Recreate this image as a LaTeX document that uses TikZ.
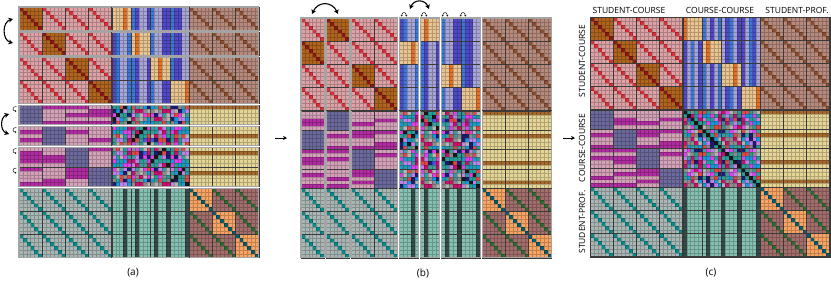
\documentclass[tikz,border=0pt]{standalone}
\usepackage{fontspec}
\setsansfont{Open Sans}
\usetikzlibrary{positioning, arrows.meta}

\definecolor{brownC}{HTML}{B0641E}
\definecolor{darkredC}{HTML}{8E1616}
\definecolor{pinkC}{HTML}{DCA2A6}
\definecolor{redC}{HTML}{D83038}
\definecolor{lavC}{HTML}{A8A4D4}
\definecolor{indigoC}{HTML}{5048C4}
\definecolor{blueC}{HTML}{3C78D8}
\definecolor{beigeC}{HTML}{E8C490}
\definecolor{orangeC}{HTML}{E0702A}
\definecolor{mauveC}{HTML}{B68A7C}
\definecolor{browndC}{HTML}{8A4E2E}
\definecolor{slateC}{HTML}{6C6A9C}
\definecolor{pinktwoC}{HTML}{D4A2B8}
\definecolor{magentaC}{HTML}{B02CA0}
\definecolor{khakiC}{HTML}{E4D496}
\definecolor{kbrownC}{HTML}{A4682C}
\definecolor{grayspC}{HTML}{A8B6B4}
\definecolor{tealC}{HTML}{068A8A}
\definecolor{mintC}{HTML}{86C0B0}
\definecolor{darkslateC}{HTML}{364A4A}
\definecolor{peachC}{HTML}{F8A464}
\definecolor{tealdarkC}{HTML}{065C6C}
\definecolor{mauvespC}{HTML}{A26E6C}
\definecolor{greenC}{HTML}{2E6A34}
\definecolor{edgeC}{HTML}{3A3A3A}
\definecolor{groupC}{HTML}{A4A4A4}
\definecolor{rnd0}{HTML}{E040E8}
\definecolor{rnd1}{HTML}{2A9C98}
\definecolor{rnd2}{HTML}{8C8C8C}
\definecolor{rnd3}{HTML}{4A50E0}
\definecolor{rnd4}{HTML}{1C1C70}
\definecolor{rnd5}{HTML}{1898D8}
\definecolor{rnd6}{HTML}{E04848}
\definecolor{rnd7}{HTML}{C080E8}
\definecolor{rnd8}{HTML}{C8106C}
\definecolor{rnd9}{HTML}{B4B4B4}
\definecolor{rnd10}{HTML}{3A9C9C}
\definecolor{rnd11}{HTML}{181818}

\def\cellsz{3.87}
\def\gapsz{1.8}
\def\bsize{{6,6,6,6,5,5,5,5,6,6,6}}
\def\bstart{{0,6,12,18,24,29,34,39,44,50,56}}
\def\ccstripe{{1,0,2,0,1,2,0,1,0,2,0,1,2,0,1,1,0,2,1,0}}
\def\magrow{{1,0,0,1,0,0,1,0,0,1,1,0,1,0,0,0,0,1,0,1}}

\newcommand\blkscsc{%
  \ifnum\bi=\bj\relax \def\bgc{brownC}\def\dgc{darkredC}\else\def\bgc{pinkC}\def\dgc{redC}\fi
  \fill[fill=\bgc] (0,0) rectangle (6,6);
  \foreach \ki in {0,...,5} {\fill[fill=\dgc] (\ki,\ki) rectangle ++(1,1);}%
}
\newcommand\blksccc{%
  \ifnum\bi=\bj\relax
    \fill[beigeC] (0,0) rectangle (5,6);
    \pgfmathtruncatemacro\li{{0,1,3,4}[\bi]}%
    \pgfmathtruncatemacro\px{mod(\qa*\li+\qb,5)}%
    \fill[orangeC] (\px,0) rectangle ++(1,6);
  \else
    \fill[lavC] (0,0) rectangle (5,6);
    \foreach \li in {0,...,4} {%
      \pgfmathtruncatemacro\stp{\ccstripe[5*\bj+\li]}%
      \pgfmathtruncatemacro\px{mod(\qa*\li+\qb,5)}%
      \ifcase\stp\relax \def\sc{lavC}\or\def\sc{indigoC}\or\def\sc{blueC}\fi
      \fill[fill=\sc] (\px,0) rectangle ++(1,6);
    }%
  \fi
}
\newcommand\blkscsp{%
  \fill[mauveC] (0,0) rectangle (6,6);
  \foreach \ki in {0,...,5} {\fill[browndC] (\ki,\ki) rectangle ++(1,1);}%
}
\newcommand\blkccsc{%
  \ifnum\bi=\bj\relax
    \fill[slateC] (0,0) rectangle (6,5);
  \else
    \fill[pinktwoC] (0,0) rectangle (6,5);
    \foreach \ki in {0,...,4} {%
      \pgfmathtruncatemacro\stp{\magrow[mod(5*\bi+\ki+7*\bj,20)]}%
      \pgfmathtruncatemacro\py{mod(\pa*\ki+\pb,5)}%
      \ifnum\stp=1\relax \fill[magentaC] (0,\py) rectangle ++(6,1);\fi
    }%
  \fi
}
\newcommand\blkcccc{%
  \foreach \ki in {0,...,4} {%
    \foreach \li in {0,...,4} {%
      \pgfmathtruncatemacro\rr{5*\bi+\ki}%
      \pgfmathtruncatemacro\ccol{5*\bj+\li}%
      \pgfmathtruncatemacro\pix{\rr==\ccol ? 11 : (abs(\rr-\ccol)==1 && mod(\rr+\ccol,3)>0 ? 1 : mod(\rr*\rr*7+\ccol*\ccol*3+\rr*\ccol*5+\rr*11+\ccol*17,11))}%
      \pgfmathtruncatemacro\py{mod(\pa*\ki+\pb,5)}%
      \pgfmathtruncatemacro\px{mod(\qa*\li+\qb,5)}%
      \fill[fill=rnd\pix] (\px,\py) rectangle ++(1,1);
    }%
  }%
}
\newcommand\blkccsp{%
  \fill[khakiC] (0,0) rectangle (6,5);
  \foreach \ki in {0,...,4} {%
    \pgfmathtruncatemacro\rr{5*\bi+\ki}%
    \pgfmathtruncatemacro\stp{(\rr==0)+(\rr==6)+(\rr==13)+(\rr==18)}%
    \pgfmathtruncatemacro\py{mod(\pa*\ki+\pb,5)}%
    \ifnum\stp=1\relax \fill[kbrownC] (0,\py) rectangle ++(6,1);\fi
  }%
}
\newcommand\blkspsc{%
  \fill[grayspC] (0,0) rectangle (6,6);
  \foreach \ki in {0,...,5} {\fill[tealC] (\ki,\ki) rectangle ++(1,1);}%
}
\newcommand\blkspcc{%
  \fill[mintC] (0,0) rectangle (5,6);
  \foreach \li in {0,...,4} {%
    \pgfmathtruncatemacro\ccol{5*\bj+\li}%
    \pgfmathtruncatemacro\stp{(\ccol==0)+(\ccol==6)+(\ccol==10)+(\ccol==14)+(\ccol==19)}%
    \pgfmathtruncatemacro\px{mod(\qa*\li+\qb,5)}%
    \ifnum\stp=1\relax \fill[darkslateC] (\px,0) rectangle ++(1,6);\fi
  }%
}
\newcommand\blkspsp{%
  \ifnum\bi=\bj\relax \def\bgc{peachC}\def\dgc{tealdarkC}\else\def\bgc{mauvespC}\def\dgc{greenC}\fi
  \fill[fill=\bgc] (0,0) rectangle (6,6);
  \foreach \ki in {0,...,5} {\fill[fill=\dgc] (\ki,\ki) rectangle ++(1,1);}%
}

\newcommand\drawblock{%
  \pgfmathtruncatemacro\ra{(\ca>3)+(\ca>7)}%
  \pgfmathtruncatemacro\rb{(\cb>3)+(\cb>7)}%
  \pgfmathtruncatemacro\bi{\ca-4*\ra}%
  \pgfmathtruncatemacro\bj{\cb-4*\rb}%
  \pgfmathtruncatemacro\hh{\ra==1 ? 5 : 6}%
  \pgfmathtruncatemacro\ww{\rb==1 ? 5 : 6}%
  \ifcase\ra\relax
    \ifcase\rb\relax \blkscsc\or\blksccc\or\blkscsp\fi
  \or
    \ifcase\rb\relax \blkccsc\or\blkcccc\or\blkccsp\fi
  \or
    \ifcase\rb\relax \blkspsc\or\blkspcc\or\blkspsp\fi
  \fi
  \pgfmathtruncatemacro\wm{\ww-1}%
  \pgfmathtruncatemacro\hm{\hh-1}%
  \draw[cellgrid] \foreach \ti in {1,...,\wm} {(\ti,0) -- (\ti,\hh)}
                  \foreach \ti in {1,...,\hm} {(0,\ti) -- (\ww,\ti)};
  \draw[blockedge] (0,0) rectangle (\ww,\hh);
}

\newcommand\drawpanel[2]{%
  \foreach \rowb in {0,...,10} {%
    \foreach \colb in {0,...,10} {%
      \pgfmathtruncatemacro\ca{\rperm[\rowb]}%
      \pgfmathtruncatemacro\cb{\cperm[\colb]}%
      \pgfmathsetmacro\xx{#1+\bstart[\colb]*\cellsz+\cgap[\colb]*\gapsz}%
      \pgfmathsetmacro\yy{#2+\bstart[\rowb]*\cellsz+\rgap[\rowb]*\gapsz}%
      \begin{scope}[shift={(\xx,\yy)}, x=\cellsz pt, y=-\cellsz pt]
        \drawblock
      \end{scope}
    }%
  }%
}

\begin{document}
\begin{tikzpicture}[x=1pt, y=-1pt,
    cellgrid/.style={draw=black, draw opacity=0.22, line width=0.3pt},
    blockedge/.style={draw=edgeC, line width=0.6pt},
    groupedge/.style={draw=groupC, line width=1.1pt},
    regionedge/.style={draw=edgeC, line width=0.9pt},
    swaparrow/.style={{Stealth[length=4.5pt,width=5pt]}-{Stealth[length=4.5pt,width=5pt]}, line width=1.1pt},
    twist/.style={-{Stealth[length=1.6pt,width=2pt]}, line width=0.45pt},
    twistb/.style={{Stealth[length=1.6pt,width=2pt]}-{Stealth[length=1.6pt,width=2pt]}, line width=0.45pt},
    nextarrow/.style={-{Stealth[length=4pt,width=4pt]}, line width=0.8pt},
    lab/.style={font=\sffamily\fontsize{8.5}{10}\selectfont, inner sep=0pt},
    panellab/.style={font=\sffamily\fontsize{10}{12}\selectfont, inner sep=0pt}
  ]
  \useasboundingbox (0,0) rectangle (831,282);

  % (a)
  \def\rperm{{1,0,2,3,5,4,6,7,8,9,10}}
  \def\cperm{{1,0,2,3,5,4,6,7,8,9,10}}
  \def\rgap{{0,1,2,2,3,4,5,5,6,6,6}}
  \def\cgap{{0,0,0,0,0,0,0,0,0,0,0}}
  \def\pa{3}\def\pb{2}\def\qa{2}\def\qb{1}
  \drawpanel{19}{7}
  \foreach \sg/\eg in {0/0,1/1,2/3,4/4,5/5,6/7,8/10} {
    \pgfmathsetmacro\ya{7+\bstart[\sg]*\cellsz+\rgap[\sg]*\gapsz}
    \pgfmathsetmacro\yb{7+(\bstart[\eg]+\bsize[\eg])*\cellsz+\rgap[\eg]*\gapsz}
    \draw[groupedge] (19,\ya) rectangle ({19+62*\cellsz},\yb);
    \draw[regionedge] ({19+24*\cellsz},\ya) -- ({19+24*\cellsz},\yb)
                      ({19+44*\cellsz},\ya) -- ({19+44*\cellsz},\yb);
  }

  % (b)
  \def\rperm{{0,1,2,3,4,5,6,7,8,9,10}}
  \def\rgap{{0,0,0,0,0,0,0,0,0,0,0}}
  \def\cgap{{0,1,2,2,3,4,5,5,6,6,6}}
  \def\pa{1}\def\pb{0}\def\qa{2}\def\qb{1}
  \drawpanel{301}{18}
  \foreach \sg/\eg in {0/0,1/1,2/3,4/4,5/5,6/7,8/10} {
    \pgfmathsetmacro\xa{301+\bstart[\sg]*\cellsz+\cgap[\sg]*\gapsz}
    \pgfmathsetmacro\xb{301+(\bstart[\eg]+\bsize[\eg])*\cellsz+\cgap[\eg]*\gapsz}
    \draw[groupedge] (\xa,18) rectangle (\xb,{18+62*\cellsz});
    \draw[regionedge] (\xa,{18+24*\cellsz}) -- (\xb,{18+24*\cellsz})
                      (\xa,{18+44*\cellsz}) -- (\xb,{18+44*\cellsz});
  }

  % (c)
  \def\cperm{{0,1,2,3,4,5,6,7,8,9,10}}
  \def\cgap{{0,0,0,0,0,0,0,0,0,0,0}}
  \def\pa{1}\def\pb{0}\def\qa{1}\def\qb{0}
  \drawpanel{590}{17}
  \draw[regionedge] (590,17) rectangle ({590+62*\cellsz},{17+62*\cellsz});
  \foreach \cut in {24,44} {
    \draw[regionedge] ({590+\cut*\cellsz},17) -- ({590+\cut*\cellsz},{17+62*\cellsz});
    \draw[regionedge] (590,{17+\cut*\cellsz}) -- ({590+62*\cellsz},{17+\cut*\cellsz});
  }

  % swap marks
  \coordinate (swA1) at (13,19);
  \coordinate (swA2) at (13,43);
  \draw[swaparrow] (swA1) .. controls (2,22) and (2,40) .. (swA2);
  \coordinate (swB1) at (9,114);
  \coordinate (swB2) at (9,134);
  \draw[swaparrow] (swB1) .. controls (0,117) and (0,131) .. (swB2);
  \foreach \tw/\ty in {1/106.5,2/127.5,3/148.5,4/168} {
    \coordinate (twA\tw) at (16.5,\ty);
    \coordinate (twB\tw) at (16.5,\ty+4.5);
    \draw[twist] (twA\tw) .. controls (12,\ty-0.5) and (12,\ty+5) .. (twB\tw);
  }
  \coordinate (swC1) at (312,14);
  \coordinate (swC2) at (338,14);
  \draw[swaparrow] (swC1) .. controls (318,1) and (332,1) .. (swC2);
  \coordinate (swD1) at (410,9);
  \coordinate (swD2) at (429,9);
  \draw[swaparrow] (swD1) .. controls (414,-1) and (425,-1) .. (swD2);
  \foreach \tw/\tx in {1/401.5,2/421.5,3/442.5,4/460.5} {
    \coordinate (twC\tw) at (\tx,16.5);
    \coordinate (twD\tw) at (\tx+5,16.5);
    \draw[twistb] (twC\tw) .. controls (\tx+0.5,11.5) and (\tx+4.5,11.5) .. (twD\tw);
  }

  % steps
  \coordinate (abS) at (275,138);
  \coordinate (abE) at (287,138);
  \draw[nextarrow] (abS) -- (abE);
  \coordinate (bcS) at (563,138);
  \coordinate (bcE) at (575,138);
  \draw[nextarrow] (bcS) -- (bcE);

  % labels
  \node[lab] (topSC) at (629,10) {STUDENT-COURSE};
  \node[lab] (topCC) at (720,10) {COURSE-COURSE};
  \node[lab] (topSP) at (797,10) {STUDENT-PROF.};
  \node[lab, rotate=90] (sideSC) at (582,61) {STUDENT-COURSE};
  \node[lab, rotate=90] (sideCC) at (582,148) {COURSE-COURSE};
  \node[lab, rotate=90] (sideSP) at (582,222) {STUDENT-PROF.};
  \node[panellab] (capA) at (133,273) {(a)};
  \node[panellab] (capB) at (423,273) {(b)};
  \node[panellab] (capC) at (711,273) {(c)};
\end{tikzpicture}
\end{document}
